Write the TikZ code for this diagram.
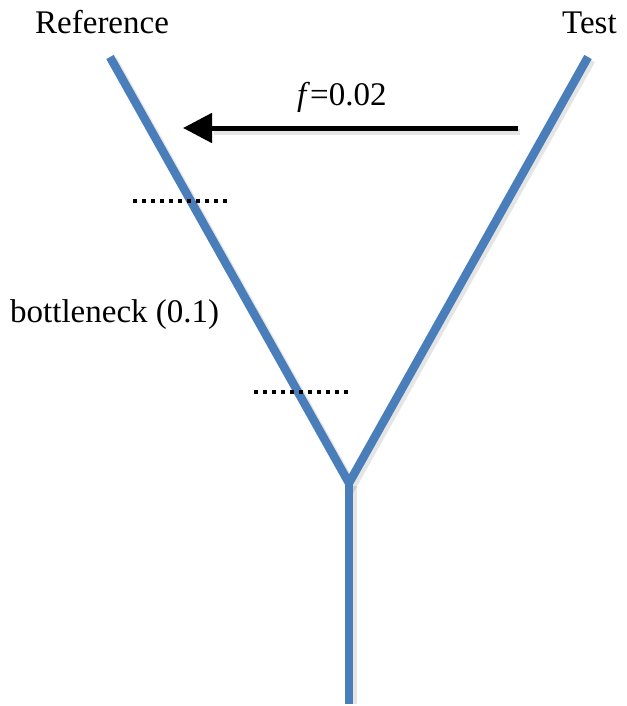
\documentclass[tikz,border=0pt]{standalone}
\usepackage{fontspec}
\setmainfont{Liberation Serif}
\usetikzlibrary{arrows.meta}
\definecolor{branchblue}{RGB}{74,126,187}
\begin{document}
\begin{tikzpicture}[x=1pt,y=-1pt,
  branch/.style={draw=branchblue,line width=8.5pt,line cap=butt,line join=miter},
  branchshadow/.style={draw=black,opacity=0.10,line width=9pt,line cap=butt},
  label/.style={anchor=base west,inner sep=0pt,font=\fontsize{33}{36}\selectfont},
  migr/.style={draw=black,line width=5pt,-{Triangle[length=29pt,width=29pt]}},
  bneck/.style={draw=black,line width=4pt,dash pattern=on 4pt off 5pt}]
\useasboundingbox (0,0) rectangle (626,706);
% tree coordinates
\coordinate (reftop) at (110,57);
\coordinate (testtop) at (588,57);
\coordinate (fork) at (349,483);
\coordinate (root) at (349,704);
% shadows
\draw[branchshadow] ([shift={(3,3)}]reftop) -- ([shift={(3,3)}]fork) -- ([shift={(3,3)}]testtop);
\draw[branchshadow] ([shift={(3,3)}]fork) -- ([shift={(3,0)}]root);
% tree
\draw[branch] (reftop) -- (fork) -- (testtop);
\draw[branch] (fork) -- (root);
% labels
\node[label] (ref) at (35,34) {Reference};
\node[label] (test) at (562,34) {Test};
\node[label] (flab) at (297,106) {\textit{f}=0.02};
\node[label] (bn) at (10,322) {bottleneck (0.1)};
% migration arrow
\coordinate (arrstart) at (518,128);
\coordinate (arrend) at (183,128);
\coordinate (shs) at (520,132);
\coordinate (she) at (214,132);
\draw[draw=black,opacity=0.10,line width=6pt] (shs) -- (she);
\draw[migr] (arrstart) -- (arrend);
% bottleneck markers
\coordinate (b1a) at (133,201);
\coordinate (b1b) at (230,201);
\coordinate (b2a) at (254,392);
\coordinate (b2b) at (350,392);
\draw[bneck] (b1a) -- (b1b);
\draw[bneck] (b2a) -- (b2b);
\end{tikzpicture}
\end{document}
